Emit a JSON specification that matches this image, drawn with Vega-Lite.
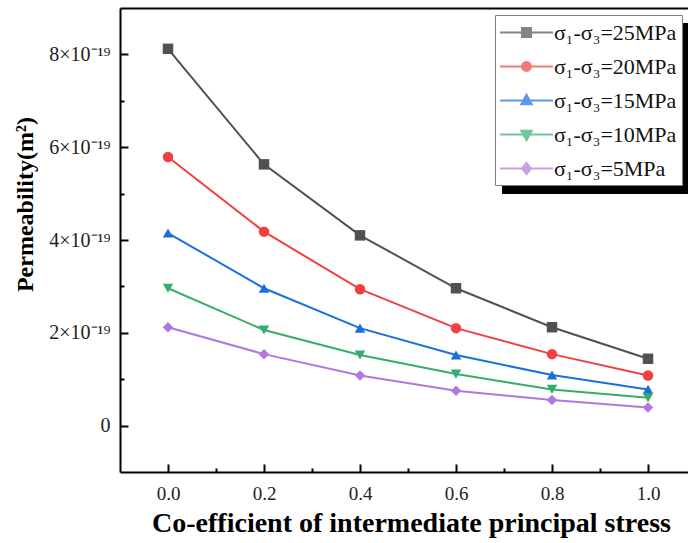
{
  "$schema": "https://vega.github.io/schema/vega-lite/v6.json",
  "width": 568,
  "height": 464,
  "autosize": {"type": "none"},
  "padding": {"left": 120, "top": 8, "right": 0, "bottom": 71},
  "background": "white",
  "config": {"view": {"stroke": null}, "font": "Liberation Serif"},
  "data": {
    "values": [
      {"coefficient": 0.0, "permeability": 8.12e-19, "series": "σ₁-σ₃=25MPa"},
      {"coefficient": 0.2, "permeability": 5.63e-19, "series": "σ₁-σ₃=25MPa"},
      {"coefficient": 0.4, "permeability": 4.10e-19, "series": "σ₁-σ₃=25MPa"},
      {"coefficient": 0.6, "permeability": 2.96e-19, "series": "σ₁-σ₃=25MPa"},
      {"coefficient": 0.8, "permeability": 2.12e-19, "series": "σ₁-σ₃=25MPa"},
      {"coefficient": 1.0, "permeability": 1.44e-19, "series": "σ₁-σ₃=25MPa"},
      {"coefficient": 0.0, "permeability": 5.79e-19, "series": "σ₁-σ₃=20MPa"},
      {"coefficient": 0.2, "permeability": 4.18e-19, "series": "σ₁-σ₃=20MPa"},
      {"coefficient": 0.4, "permeability": 2.94e-19, "series": "σ₁-σ₃=20MPa"},
      {"coefficient": 0.6, "permeability": 2.10e-19, "series": "σ₁-σ₃=20MPa"},
      {"coefficient": 0.8, "permeability": 1.54e-19, "series": "σ₁-σ₃=20MPa"},
      {"coefficient": 1.0, "permeability": 1.08e-19, "series": "σ₁-σ₃=20MPa"},
      {"coefficient": 0.0, "permeability": 4.15e-19, "series": "σ₁-σ₃=15MPa"},
      {"coefficient": 0.2, "permeability": 2.96e-19, "series": "σ₁-σ₃=15MPa"},
      {"coefficient": 0.4, "permeability": 2.10e-19, "series": "σ₁-σ₃=15MPa"},
      {"coefficient": 0.6, "permeability": 1.52e-19, "series": "σ₁-σ₃=15MPa"},
      {"coefficient": 0.8, "permeability": 1.09e-19, "series": "σ₁-σ₃=15MPa"},
      {"coefficient": 1.0, "permeability": 0.78e-19, "series": "σ₁-σ₃=15MPa"},
      {"coefficient": 0.0, "permeability": 2.96e-19, "series": "σ₁-σ₃=10MPa"},
      {"coefficient": 0.2, "permeability": 2.06e-19, "series": "σ₁-σ₃=10MPa"},
      {"coefficient": 0.4, "permeability": 1.52e-19, "series": "σ₁-σ₃=10MPa"},
      {"coefficient": 0.6, "permeability": 1.11e-19, "series": "σ₁-σ₃=10MPa"},
      {"coefficient": 0.8, "permeability": 0.78e-19, "series": "σ₁-σ₃=10MPa"},
      {"coefficient": 1.0, "permeability": 0.60e-19, "series": "σ₁-σ₃=10MPa"},
      {"coefficient": 0.0, "permeability": 2.12e-19, "series": "σ₁-σ₃=5MPa"},
      {"coefficient": 0.2, "permeability": 1.54e-19, "series": "σ₁-σ₃=5MPa"},
      {"coefficient": 0.4, "permeability": 1.08e-19, "series": "σ₁-σ₃=5MPa"},
      {"coefficient": 0.6, "permeability": 0.75e-19, "series": "σ₁-σ₃=5MPa"},
      {"coefficient": 0.8, "permeability": 0.55e-19, "series": "σ₁-σ₃=5MPa"},
      {"coefficient": 1.0, "permeability": 0.39e-19, "series": "σ₁-σ₃=5MPa"}
    ]
  },
  "encoding": {
    "y": {
      "field": "permeability",
      "type": "quantitative",
      "scale": {"domain": [-1e-19, 9e-19], "nice": false, "zero": false},
      "axis": {
        "values": [0, 1e-19, 2e-19, 3e-19, 4e-19, 5e-19, 6e-19, 7e-19, 8e-19],
        "labelExpr": "datum.value == 0 ? '0' : (round(datum.value * 1e19) % 2 == 0 ? round(datum.value * 1e19) + '×10⁻¹⁹' : '')",
        "tickSize": {"condition": {"test": "round(datum.value * 1e19) % 2 == 1", "value": -4}, "value": -8},
        "tickWidth": 2,
        "tickColor": "black",
        "domainColor": "black",
        "domainWidth": 2,
        "grid": false,
        "labelFont": "Liberation Serif",
        "labelFontSize": 20,
        "labelColor": "#222222",
        "labelPadding": 18,
        "title": "Permeability(m²)",
        "titleFont": "Liberation Serif",
        "titleFontSize": 24,
        "titleFontWeight": "bold",
        "titleColor": "black",
        "titleAngle": -90,
        "titleAlign": "center",
        "titleBaseline": "middle",
        "titleX": -95,
        "titleY": 196
      }
    }
  },
  "layer": [
    {
      "mark": {"type": "line", "strokeWidth": 2},
      "encoding": {
        "x": {"field": "coefficient", "type": "quantitative", "scale": {"domain": [-0.1, 1.0833], "nice": false, "zero": false}, "axis": null},
        "color": {
          "field": "series",
          "type": "nominal",
          "sort": null,
          "scale": {
            "domain": ["σ₁-σ₃=25MPa", "σ₁-σ₃=20MPa", "σ₁-σ₃=15MPa", "σ₁-σ₃=10MPa", "σ₁-σ₃=5MPa"],
            "range": ["#515151", "#F14040", "#1A6FDF", "#37AD6B", "#B177DE"]
          },
          "legend": null
        }
      }
    },
    {
      "mark": {"type": "point", "filled": true, "size": 110, "opacity": 1},
      "encoding": {
        "x": {
          "field": "coefficient",
          "type": "quantitative",
          "scale": {"domain": [-0.1, 1.0833], "nice": false, "zero": false},
          "axis": {
            "orient": "bottom",
            "values": [0, 0.1, 0.2, 0.3, 0.4, 0.5, 0.6, 0.7, 0.8, 0.9, 1.0],
            "labelExpr": "round(datum.value * 10) % 2 == 0 ? format(datum.value, '.1f') : ''",
            "tickSize": {"condition": {"test": "round(datum.value * 10) % 2 == 1", "value": -4}, "value": -8},
            "tickWidth": 2,
            "tickColor": "black",
            "domainColor": "black",
            "domainWidth": 2,
            "grid": false,
            "labelFont": "Liberation Serif",
            "labelFontSize": 19,
            "labelColor": "#222222",
            "labelBaseline": "middle",
            "labelPadding": 29,
            "title": "Co-efficient of intermediate principal stress",
            "titleFont": "Liberation Serif",
            "titleFontSize": 28,
            "titleFontWeight": "bold",
            "titleColor": "black",
            "titleAlign": "center",
            "titleBaseline": "middle",
            "titleX": 291,
            "titleY": 51
          }
        },
        "color": {"field": "series", "type": "nominal", "sort": null, "legend": null},
        "shape": {
          "field": "series",
          "type": "nominal",
          "sort": null,
          "scale": {
            "domain": ["σ₁-σ₃=25MPa", "σ₁-σ₃=20MPa", "σ₁-σ₃=15MPa", "σ₁-σ₃=10MPa", "σ₁-σ₃=5MPa"],
            "range": ["square", "circle", "triangle-up", "triangle-down", "diamond"]
          },
          "legend": null
        }
      }
    },
    {
      "mark": {"type": "point", "opacity": 0},
      "encoding": {
        "x": {
          "field": "coefficient",
          "type": "quantitative",
          "scale": {"domain": [-0.1, 1.0833], "nice": false, "zero": false},
          "axis": {"orient": "top", "labels": false, "ticks": false, "title": null, "grid": false, "domainColor": "black", "domainWidth": 2}
        }
      }
    },
    {
      "transform": [{"filter": "false"}],
      "mark": {"type": "point", "filled": true},
      "encoding": {
        "x": {"field": "coefficient", "type": "quantitative", "scale": {"domain": [-0.1, 1.0833], "nice": false, "zero": false}, "axis": null},
        "strokeDash": {
          "field": "series",
          "type": "nominal",
          "sort": null,
          "scale": {"domain": ["σ₁-σ₃=5MPa", "σ₁-σ₃=10MPa", "σ₁-σ₃=15MPa", "σ₁-σ₃=20MPa", "σ₁-σ₃=25MPa"]},
          "legend": {
            "title": null,
            "orient": "none",
            "legendX": 382,
            "legendY": 15,
            "fillColor": "black",
            "strokeColor": "black",
            "padding": 5,
            "symbolType": "M-2.3,0H13.17",
            "symbolSize": 529,
            "symbolOffset": 14,
            "symbolStrokeWidth": 2,
            "symbolStrokeColor": "black",
            "symbolFillColor": "black",
            "labelExpr": "' '",
            "labelFont": "Liberation Serif",
            "labelFontSize": 22,
            "labelColor": "black",
            "labelOffset": 1,
            "rowPadding": 10,
            "zindex": 1
          }
        }
      }
    },
    {
      "transform": [{"filter": "false"}],
      "mark": {"type": "point", "filled": true},
      "encoding": {
        "x": {"field": "coefficient", "type": "quantitative", "scale": {"domain": [-0.1, 1.0833], "nice": false, "zero": false}, "axis": null},
        "fill": {
          "field": "series",
          "type": "nominal",
          "sort": null,
          "scale": {
            "domain": ["σ₁-σ₃=25MPa", "σ₁-σ₃=20MPa", "σ₁-σ₃=15MPa", "σ₁-σ₃=10MPa", "σ₁-σ₃=5MPa"],
            "range": ["#515151", "#F14040", "#1A6FDF", "#37AD6B", "#B177DE"]
          },
          "legend": {
            "title": null,
            "orient": "none",
            "legendX": 375,
            "legendY": 7,
            "fillColor": "white",
            "strokeColor": "#808080",
            "padding": 5,
            "symbolSize": 529,
            "symbolOffset": 14,
            "symbolStrokeWidth": 2,
            "symbolStrokeColor": "black",
            "symbolFillColor": "black",
            "labelFont": "Liberation Serif",
            "labelFontSize": 22,
            "labelColor": "#111111",
            "labelOffset": 15,
            "rowPadding": 10,
            "zindex": 2
          }
        },
        "stroke": {
          "field": "series",
          "type": "nominal",
          "sort": null,
          "scale": {
            "domain": ["σ₁-σ₃=25MPa", "σ₁-σ₃=20MPa", "σ₁-σ₃=15MPa", "σ₁-σ₃=10MPa", "σ₁-σ₃=5MPa"],
            "range": ["#515151", "#F14040", "#1A6FDF", "#37AD6B", "#B177DE"]
          },
          "legend": {
            "title": null,
            "orient": "none",
            "legendX": 375,
            "legendY": 7,
            "symbolStrokeColor": "black",
            "symbolFillColor": "black"
          }
        },
        "shape": {
          "field": "series",
          "type": "nominal",
          "sort": null,
          "scale": {
            "domain": ["σ₁-σ₃=25MPa", "σ₁-σ₃=20MPa", "σ₁-σ₃=15MPa", "σ₁-σ₃=10MPa", "σ₁-σ₃=5MPa"],
            "range": [
              "M-2.3,0H2.3M-0.39,-0.39H0.39V0.39H-0.39Z",
              "M-2.3,0H2.3M0.39,0L0.338,0.195L0.195,0.338L0,0.39L-0.195,0.338L-0.338,0.195L-0.39,0L-0.338,-0.195L-0.195,-0.338L0,-0.39L0.195,-0.338L0.338,-0.195Z",
              "M-2.3,0H2.3M0,-0.5L0.45,0.32L-0.45,0.32Z",
              "M-2.3,0H2.3M0,0.5L0.45,-0.32L-0.45,-0.32Z",
              "M-2.3,0H2.3M0,-0.5L0.4,0L0,0.5L-0.4,0Z"
            ]
          },
          "legend": {
            "title": null,
            "orient": "none",
            "legendX": 375,
            "legendY": 7,
            "symbolStrokeColor": "black",
            "symbolFillColor": "black"
          }
        }
      }
    }
  ],
  "resolve": {
    "axis": {"x": "independent"},
    "scale": {"shape": "independent", "fill": "independent", "stroke": "independent", "strokeDash": "independent"}
  }
}
